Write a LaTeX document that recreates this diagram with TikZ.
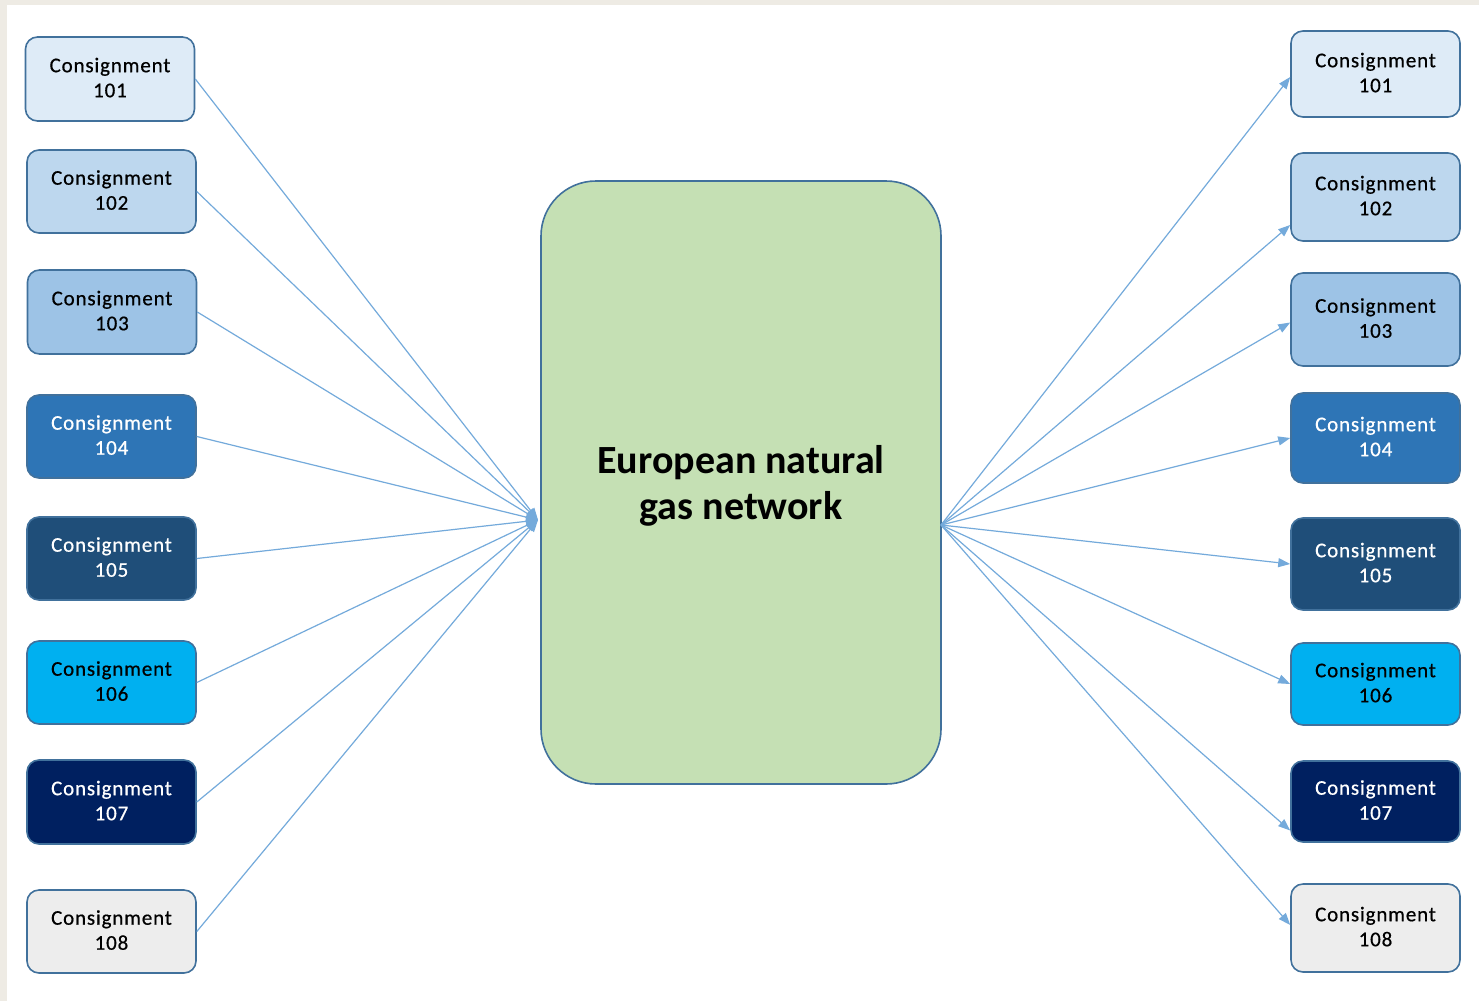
\documentclass[tikz,border=0pt]{standalone}
\usepackage{fontspec}
\setmainfont{Carlito}
\newfontfamily\boxfont[LetterSpace=4,FakeBold=0.6]{Carlito}
\usetikzlibrary{arrows.meta}
\definecolor{beige}{HTML}{EEEBE4}
\definecolor{bord}{HTML}{41719C}
\definecolor{lnk}{HTML}{5B9BD5}
\definecolor{netfill}{HTML}{C5E0B4}
\definecolor{cA}{HTML}{DEEBF7}
\definecolor{cB}{HTML}{BDD7EE}
\definecolor{cC}{HTML}{9DC3E6}
\definecolor{cD}{HTML}{2E75B6}
\definecolor{cE}{HTML}{1F4E79}
\definecolor{cF}{HTML}{00B0F0}
\definecolor{cG}{HTML}{002060}
\definecolor{cH}{HTML}{EDEDED}
\tikzset{
  cbox/.style={draw=bord, line width=1.6pt, rounded corners=12pt, minimum width=169pt,
    align=center, inner sep=0pt, text depth=3pt, font=\boxfont\fontsize{21}{25}\selectfont},
  netbox/.style={draw=bord, line width=1.6pt, fill=netfill, rounded corners=55pt,
    minimum width=400pt, minimum height=603pt},
  nettxt/.style={align=center, font=\fontsize{40}{46}\selectfont\bfseries},
  link/.style={draw=lnk!85, line width=1.2pt, -{Triangle[length=12pt,width=9pt]}},
}
\begin{document}
\begin{tikzpicture}[x=1pt,y=-1pt]
\useasboundingbox (0,0) rectangle (1479,1001);
\fill[white] (0,0) rectangle (1479,1001);
\fill[beige] (0,0) rectangle (1479,5);
\fill[beige] (0,0) rectangle (7,1001);

\node[netbox] (net) at (741,482.5) {};
\node[nettxt] (nettext) at (741,486) {European natural\\gas network};
\coordinate (cin) at (538,520);
\coordinate (cout) at (941,525);

% left boxes
\node[cbox, fill=cA, minimum height=84pt] (L1) at (110,79) {Consignment\\101};
\node[cbox, fill=cB, minimum height=83pt] (L2) at (111.5,191.5) {Consignment\\102};
\node[cbox, fill=cC, minimum height=84pt] (L3) at (112,312) {Consignment\\103};
\node[cbox, fill=cD, text=white, minimum height=83pt] (L4) at (111.5,436.5) {Consignment\\104};
\node[cbox, fill=cE, text=white, minimum height=83pt] (L5) at (111.5,558.5) {Consignment\\105};
\node[cbox, fill=cF, minimum height=83pt] (L6) at (111.5,682.5) {Consignment\\106};
\node[cbox, fill=cG, text=white, minimum height=84pt] (L7) at (111.5,802) {Consignment\\107};
\node[cbox, fill=cH, minimum height=83pt] (L8) at (111.5,931.5) {Consignment\\108};

% right boxes
\node[cbox, fill=cA, minimum height=86pt] (R1) at (1375.5,74) {Consignment\\101};
\node[cbox, fill=cB, minimum height=88pt] (R2) at (1375.5,197) {Consignment\\102};
\node[cbox, fill=cC, minimum height=93pt] (R3) at (1375.5,319.5) {Consignment\\103};
\node[cbox, fill=cD, text=white, minimum height=90pt] (R4) at (1375.5,438) {Consignment\\104};
\node[cbox, fill=cE, text=white, minimum height=92pt] (R5) at (1375.5,564) {Consignment\\105};
\node[cbox, fill=cF, minimum height=82pt] (R6) at (1375.5,684) {Consignment\\106};
\node[cbox, fill=cG, text=white, minimum height=81pt] (R7) at (1375.5,801.5) {Consignment\\107};
\node[cbox, fill=cH, minimum height=88pt] (R8) at (1375.5,928) {Consignment\\108};

% incoming links
\foreach \i in {1,...,8} {
  \draw[link] (L\i.east) -- (cin);
}
% outgoing links
\draw[link] (cout) -- ([yshift=-3pt]R1.west);
\draw[link] (cout) -- ([yshift=-28pt]R2.west);
\draw[link] (cout) -- ([yshift=-3pt]R3.west);
\draw[link] (cout) -- (R4.west);
\draw[link] (cout) -- (R5.west);
\draw[link] (cout) -- (R6.west);
\draw[link] (cout) -- ([yshift=-29pt]R7.west);
\draw[link] (cout) -- ([yshift=3pt]R8.west);
\end{tikzpicture}
\end{document}
